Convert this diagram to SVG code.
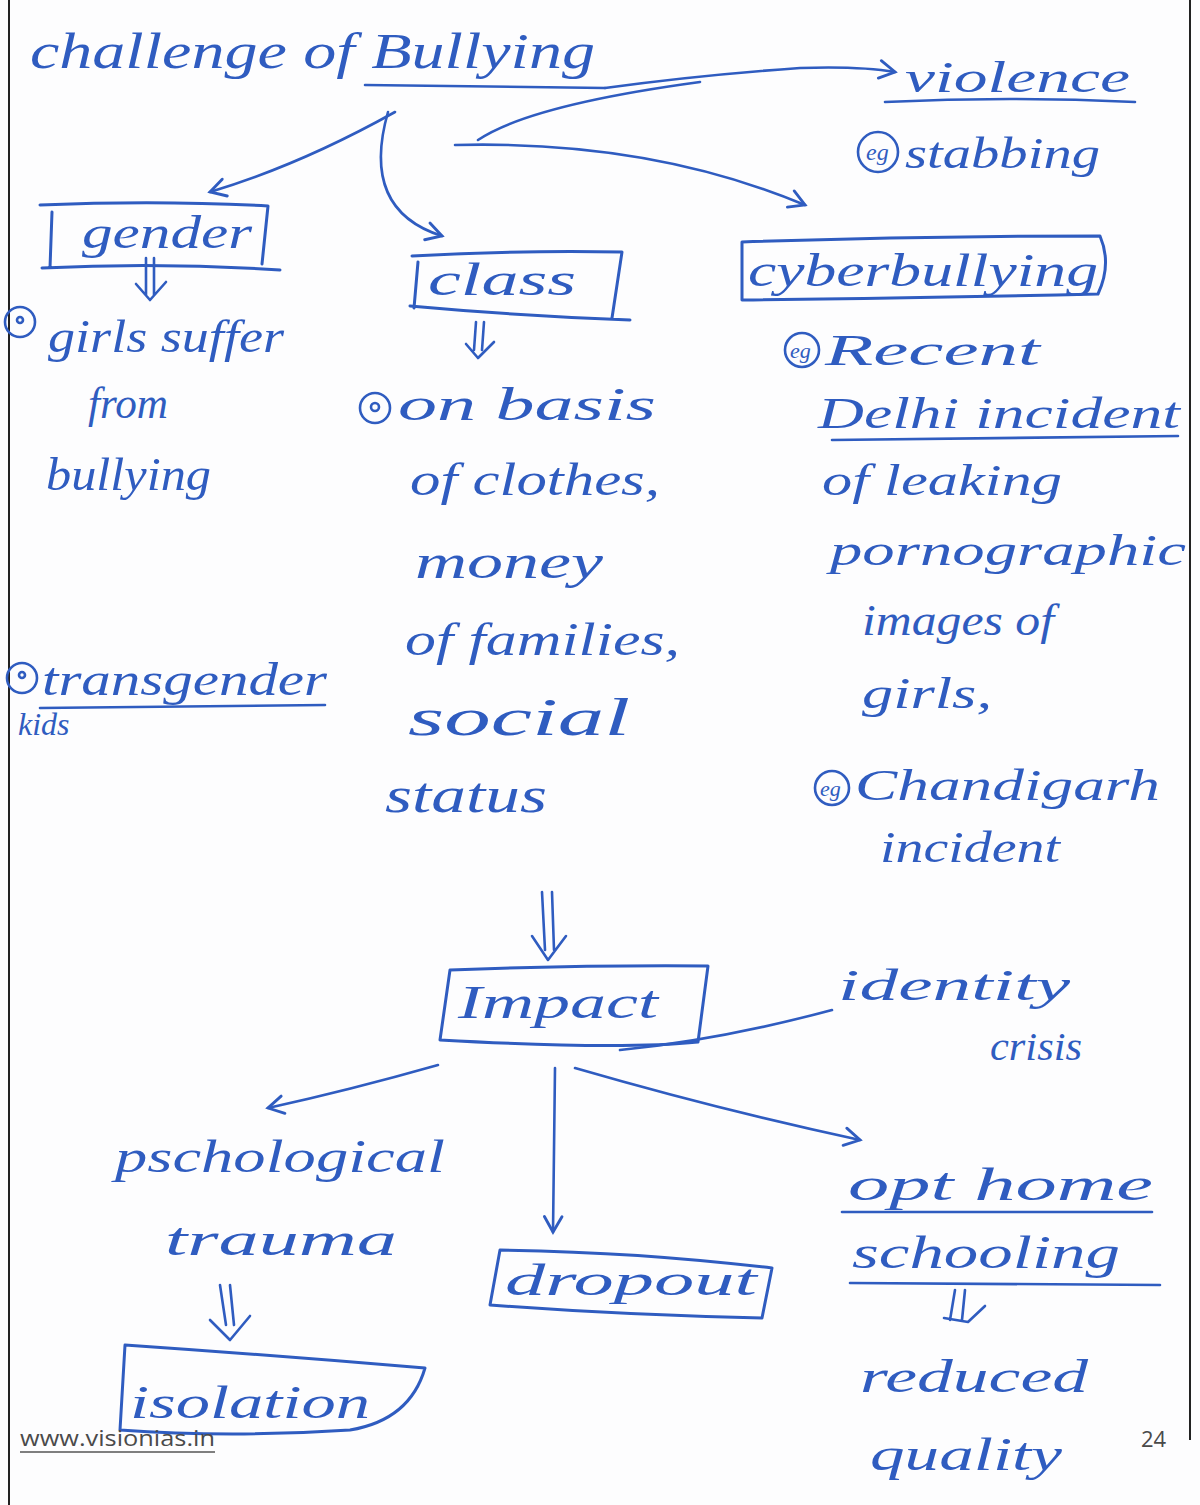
<svg xmlns="http://www.w3.org/2000/svg" width="1200" height="1505" viewBox="0 0 1200 1505">
<defs>
<style>
.t{font-family:"Liberation Serif",serif;font-style:italic;fill:#2f5cc0;}
.b{fill:none;stroke:#2f5cc0;stroke-width:3;stroke-linecap:round;stroke-linejoin:round;}
.c{fill:none;stroke:#2f5cc0;stroke-width:2.6;stroke-linecap:round;stroke-linejoin:round;}
.f{font-family:"Open Sans","Liberation Sans",sans-serif;font-size:22px;fill:#4a4a4a;}
</style>
<marker id="ah" viewBox="0 0 20 20" refX="16" refY="10" markerWidth="22" markerHeight="22" markerUnits="userSpaceOnUse" orient="auto">
<path d="M2,2 L16,10 L2,18" fill="none" stroke="#2f5cc0" stroke-width="2.6" stroke-linecap="round"/>
</marker>
</defs>
<rect width="1200" height="1505" fill="#fdfdfe"/>
<line x1="9" y1="0" x2="9" y2="1505" stroke="#222" stroke-width="2"/>
<line x1="1190" y1="0" x2="1190" y2="1440" stroke="#222" stroke-width="2"/>

<g id="title">
<text class="t" x="30" y="68" font-size="50" textLength="565" lengthAdjust="spacingAndGlyphs">challenge of Bullying</text>
<line class="c" x1="365" y1="85" x2="605" y2="88"/>
</g>

<g id="violence">
<text class="t" x="905" y="92" font-size="44" textLength="225" lengthAdjust="spacingAndGlyphs">violence</text>
<path class="c" d="M885,102 Q1010,96 1135,102"/>
<circle class="c" cx="878" cy="152" r="20"/>
<text class="t" x="866" y="160" font-size="24">eg</text>
<text class="t" x="905" y="168" font-size="44" textLength="195" lengthAdjust="spacingAndGlyphs">stabbing</text>
</g>

<g id="gender">
<path class="b" d="M40,205 Q160,200 268,206 L262,264 M52,212 L50,268 M42,268 Q160,262 280,270"/>
<text class="t" x="82" y="248" font-size="46" textLength="170" lengthAdjust="spacingAndGlyphs">gender</text>
</g>

<g id="class">
<path class="b" d="M412,256 Q520,250 622,252 L612,318 M418,262 L414,308 M410,306 Q520,316 630,320"/>
<text class="t" x="428" y="295" font-size="46" textLength="148" lengthAdjust="spacingAndGlyphs">class</text>
</g>

<g id="cyberbullying">
<path class="b" d="M742,242 Q920,236 1100,236 Q1112,264 1098,294 Q920,298 742,300 Z"/>
<text class="t" x="748" y="286" font-size="46" textLength="350" lengthAdjust="spacingAndGlyphs">cyberbullying</text>
</g>

<g id="gender-points">
<circle class="c" cx="20" cy="322" r="15"/><circle class="c" cx="20" cy="320" r="3"/>
<text class="t" x="48" y="352" font-size="46" textLength="236" lengthAdjust="spacingAndGlyphs">girls suffer</text>
<text class="t" x="88" y="418" font-size="44" textLength="80" lengthAdjust="spacingAndGlyphs">from</text>
<text class="t" x="46" y="490" font-size="46" textLength="165" lengthAdjust="spacingAndGlyphs">bullying</text>
<circle class="c" cx="22" cy="678" r="15"/><circle class="c" cx="22" cy="675" r="3"/>
<text class="t" x="42" y="695" font-size="46" textLength="285" lengthAdjust="spacingAndGlyphs">transgender</text>
<line class="c" x1="40" y1="708" x2="325" y2="705"/>
<text class="t" x="18" y="735" font-size="32">kids</text>
</g>

<g id="class-points">
<circle class="c" cx="375" cy="408" r="15"/><circle class="c" cx="375" cy="407" r="4"/>
<text class="t" x="398" y="420" font-size="46" textLength="258" lengthAdjust="spacingAndGlyphs">on basis</text>
<text class="t" x="410" y="495" font-size="46" textLength="250" lengthAdjust="spacingAndGlyphs">of clothes,</text>
<text class="t" x="415" y="578" font-size="48" textLength="188" lengthAdjust="spacingAndGlyphs">money</text>
<text class="t" x="405" y="655" font-size="46" textLength="275" lengthAdjust="spacingAndGlyphs">of families,</text>
<text class="t" x="408" y="735" font-size="52" textLength="222" lengthAdjust="spacingAndGlyphs">social</text>
<text class="t" x="385" y="812" font-size="50" textLength="162" lengthAdjust="spacingAndGlyphs">status</text>
</g>

<g id="cyber-points">
<circle class="c" cx="802" cy="350" r="17"/>
<text class="t" x="790" y="358" font-size="22">eg</text>
<text class="t" x="825" y="365" font-size="44" textLength="215" lengthAdjust="spacingAndGlyphs">Recent</text>
<text class="t" x="818" y="428" font-size="44" textLength="362" lengthAdjust="spacingAndGlyphs">Delhi incident</text>
<line class="c" x1="832" y1="440" x2="1178" y2="436"/>
<text class="t" x="822" y="495" font-size="44" textLength="240" lengthAdjust="spacingAndGlyphs">of leaking</text>
<text class="t" x="830" y="565" font-size="44" textLength="356" lengthAdjust="spacingAndGlyphs">pornographic</text>
<text class="t" x="862" y="635" font-size="44" textLength="192" lengthAdjust="spacingAndGlyphs">images of</text>
<text class="t" x="862" y="708" font-size="44" textLength="130" lengthAdjust="spacingAndGlyphs">girls,</text>
<circle class="c" cx="832" cy="788" r="17"/>
<text class="t" x="820" y="796" font-size="22">eg</text>
<text class="t" x="855" y="800" font-size="44" textLength="305" lengthAdjust="spacingAndGlyphs">Chandigarh</text>
<text class="t" x="880" y="862" font-size="44" textLength="180" lengthAdjust="spacingAndGlyphs">incident</text>
</g>

<g id="impact">
<path class="b" d="M450,970 Q580,965 708,966 L698,1042 Q620,1050 440,1040 Z"/>
<text class="t" x="458" y="1018" font-size="46" textLength="200" lengthAdjust="spacingAndGlyphs">Impact</text>
</g>

<g id="identity">
<text class="t" x="838" y="1000" font-size="44" textLength="232" lengthAdjust="spacingAndGlyphs">identity</text>
<text class="t" x="990" y="1060" font-size="40" textLength="92" lengthAdjust="spacingAndGlyphs">crisis</text>
</g>

<g id="psychological">
<text class="t" x="115" y="1172" font-size="46" textLength="330" lengthAdjust="spacingAndGlyphs">pschological</text>
<text class="t" x="165" y="1255" font-size="46" textLength="232" lengthAdjust="spacingAndGlyphs">trauma</text>
</g>

<g id="isolation">
<path class="b" d="M125,1345 Q270,1355 425,1368 Q410,1420 350,1430 Q230,1438 120,1430 L125,1345"/>
<text class="t" x="130" y="1418" font-size="46" textLength="240" lengthAdjust="spacingAndGlyphs">isolation</text>
</g>

<g id="dropout">
<path class="b" d="M500,1250 Q640,1252 772,1268 L762,1318 Q620,1315 490,1305 Z"/>
<text class="t" x="505" y="1295" font-size="44" textLength="252" lengthAdjust="spacingAndGlyphs">dropout</text>
</g>

<g id="homeschooling">
<text class="t" x="848" y="1200" font-size="46" textLength="305" lengthAdjust="spacingAndGlyphs">opt home</text>
<line class="c" x1="842" y1="1212" x2="1152" y2="1212"/>
<text class="t" x="852" y="1268" font-size="46" textLength="268" lengthAdjust="spacingAndGlyphs">schooling</text>
<line class="c" x1="850" y1="1283" x2="1160" y2="1285"/>
<text class="t" x="860" y="1392" font-size="46" textLength="228" lengthAdjust="spacingAndGlyphs">reduced</text>
<text class="t" x="870" y="1470" font-size="46" textLength="192" lengthAdjust="spacingAndGlyphs">quality</text>
</g>

<g id="connectors">
<path class="c" d="M605,88 Q700,75 800,68 Q860,66 895,72" marker-end="url(#ah)"/>
<path class="c" d="M478,140 Q530,105 700,82"/>
<path class="c" d="M455,145 Q650,140 805,205" marker-end="url(#ah)"/>
<path class="c" d="M395,112 Q300,165 210,192" marker-end="url(#ah)"/>
<path class="c" d="M388,112 Q360,210 442,236" marker-end="url(#ah)"/>
<path class="c" d="M146,258 L146,295 M154,258 L154,295 M136,284 L150,300 L166,282"/>
<path class="c" d="M476,322 L474,350 M484,322 L482,350 M466,344 L478,358 L494,342"/>
<path class="c" d="M542,892 L545,950 M552,892 L554,950 M532,936 L548,960 L566,936"/>
<path class="c" d="M620,1050 Q720,1040 832,1010"/>
<path class="c" d="M438,1065 Q350,1090 268,1108" marker-end="url(#ah)"/>
<path class="c" d="M555,1068 L553,1232" marker-end="url(#ah)"/>
<path class="c" d="M575,1068 Q720,1110 860,1140" marker-end="url(#ah)"/>
<path class="c" d="M220,1285 L226,1325 M230,1285 L234,1325 M210,1320 L230,1340 L250,1316"/>
<path class="c" d="M955,1290 L950,1320 M965,1290 L962,1320 M944,1318 L968,1322 L985,1306"/>
</g>

<g id="footer">
<text class="f" x="20" y="1446" textLength="195" lengthAdjust="spacingAndGlyphs">www.visionias.in</text>
<line x1="20" y1="1452" x2="215" y2="1452" stroke="#555" stroke-width="1.5"/>
<text class="f" x="1141" y="1447" fill="#333">24</text>
</g>
</svg>
